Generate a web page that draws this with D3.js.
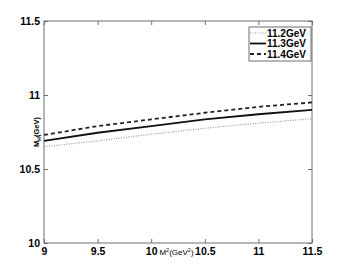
<!DOCTYPE html>
<html>
<head>
<meta charset="utf-8">
<script src="https://d3js.org/d3.v7.min.js"></script>
<style>
    body { margin: 0; background: #fff; }
    svg text { font-family: Arial, "Liberation Sans", sans-serif; fill: #000; }
    .tick text { font-size: 10.5px; font-weight: bold; }
</style>
</head>
<body>
<svg id="chart" width="345" height="273"></svg>
<script>
    // values
    let xValues = [9, 9.5, 10, 10.5, 11, 11.5]
    let m112 = [10.65, 10.69, 10.735, 10.775, 10.81, 10.84]
    let m113 = [10.69, 10.745, 10.79, 10.835, 10.87, 10.90]
    let m114 = [10.73, 10.79, 10.835, 10.88, 10.92, 10.95]
    let seriesNames = ['11.2GeV', '11.3GeV', '11.4GeV']
    let xTicks = [9, 9.5, 10, 10.5, 11, 11.5]
    let yTicks = [10, 10.5, 11, 11.5]

    let margin = {left: 44, right: 33, top: 21, bottom: 30},
        svg = d3.select('#chart'),
        width = svg.attr('width') - margin.left - margin.right,
        height = svg.attr('height') - margin.top - margin.bottom

    let x = d3.scaleLinear().domain([9, 11.5]).range([margin.left, margin.left + width])
    let y = d3.scaleLinear().domain([10, 11.5]).range([margin.top + height, margin.top])

    let fmt = d => d3.format('')(d)
    let axisColor = '#6e6e6e'

    // box + axes
    svg.append('rect')
        .attr('x', margin.left).attr('y', margin.top)
        .attr('width', width).attr('height', height)
        .attr('fill', 'none').attr('stroke', axisColor).attr('stroke-width', 1)

    let gx = svg.append('g').attr('transform', `translate(0,${margin.top + height})`)
        .call(d3.axisBottom(x).tickValues(xTicks).tickFormat(fmt).tickSize(-4).tickPadding(6))
    let gxTop = svg.append('g').attr('transform', `translate(0,${margin.top})`)
        .call(d3.axisTop(x).tickValues(xTicks).tickFormat('').tickSize(-4))
    let gy = svg.append('g').attr('transform', `translate(${margin.left},0)`)
        .call(d3.axisLeft(y).tickValues(yTicks).tickFormat(fmt).tickSize(-4).tickPadding(4))
    let gyRight = svg.append('g').attr('transform', `translate(${margin.left + width},0)`)
        .call(d3.axisRight(y).tickValues(yTicks).tickFormat('').tickSize(-4))

    for (let g of [gx, gxTop, gy, gyRight]) {
        g.select('.domain').remove()
        g.selectAll('line').attr('stroke', axisColor)
    }
    gx.selectAll('text').attr('dy', '0.55em')

    // curves
    let line = d3.line().x((d, i) => x(xValues[i])).y(d => y(d))
    let styles = [
        {data: m112, stroke: '#999', width: 1.2, dash: '1,1.5'},
        {data: m113, stroke: '#111', width: 1.8, dash: null},
        {data: m114, stroke: '#222', width: 1.8, dash: '4,3'}
    ]
    styles.forEach(s => {
        svg.append('path')
            .attr('d', line(s.data))
            .attr('fill', 'none')
            .attr('stroke', s.stroke)
            .attr('stroke-width', s.width)
            .attr('stroke-dasharray', s.dash)
    })

    // axis labels
    let xl = svg.append('text')
        .attr('x', 176.5).attr('y', 255)
        .attr('text-anchor', 'middle')
        .style('font-size', '8px')
    xl.append('tspan').text('M')
    xl.append('tspan').attr('dy', -3.5).style('font-size', '5.5px').text('2')
    xl.append('tspan').attr('dy', 3.5).text('(GeV')
    xl.append('tspan').attr('dy', -3.5).style('font-size', '5.5px').text('2')
    xl.append('tspan').attr('dy', 3.5).text(')')

    let yl = svg.append('text')
        .attr('transform', 'translate(39,132) rotate(-90)')
        .attr('text-anchor', 'middle')
        .style('font-size', '7.5px').style('font-weight', 'bold')
    yl.append('tspan').text('M')
    yl.append('tspan').attr('dy', 2).style('font-size', '5px').text('H')
    yl.append('tspan').attr('dy', -2).text('(GeV)')

    // legend
    let lg = svg.append('g')
    lg.append('rect')
        .attr('x', 249).attr('y', 27).attr('width', 62).attr('height', 34)
        .attr('fill', '#fff').attr('stroke', axisColor).attr('stroke-width', 1)
    seriesNames.forEach((name, i) => {
        let cy = 33 + i * 10.5
        lg.append('line')
            .attr('x1', 250).attr('x2', 266).attr('y1', cy).attr('y2', cy)
            .attr('stroke', styles[i].stroke)
            .attr('stroke-width', styles[i].width)
            .attr('stroke-dasharray', styles[i].dash)
        lg.append('text')
            .attr('x', 267).attr('y', cy + 3.6)
            .style('font-size', '10px').style('font-weight', 'bold')
            .text(name)
    })
</script>
</body>
</html>
